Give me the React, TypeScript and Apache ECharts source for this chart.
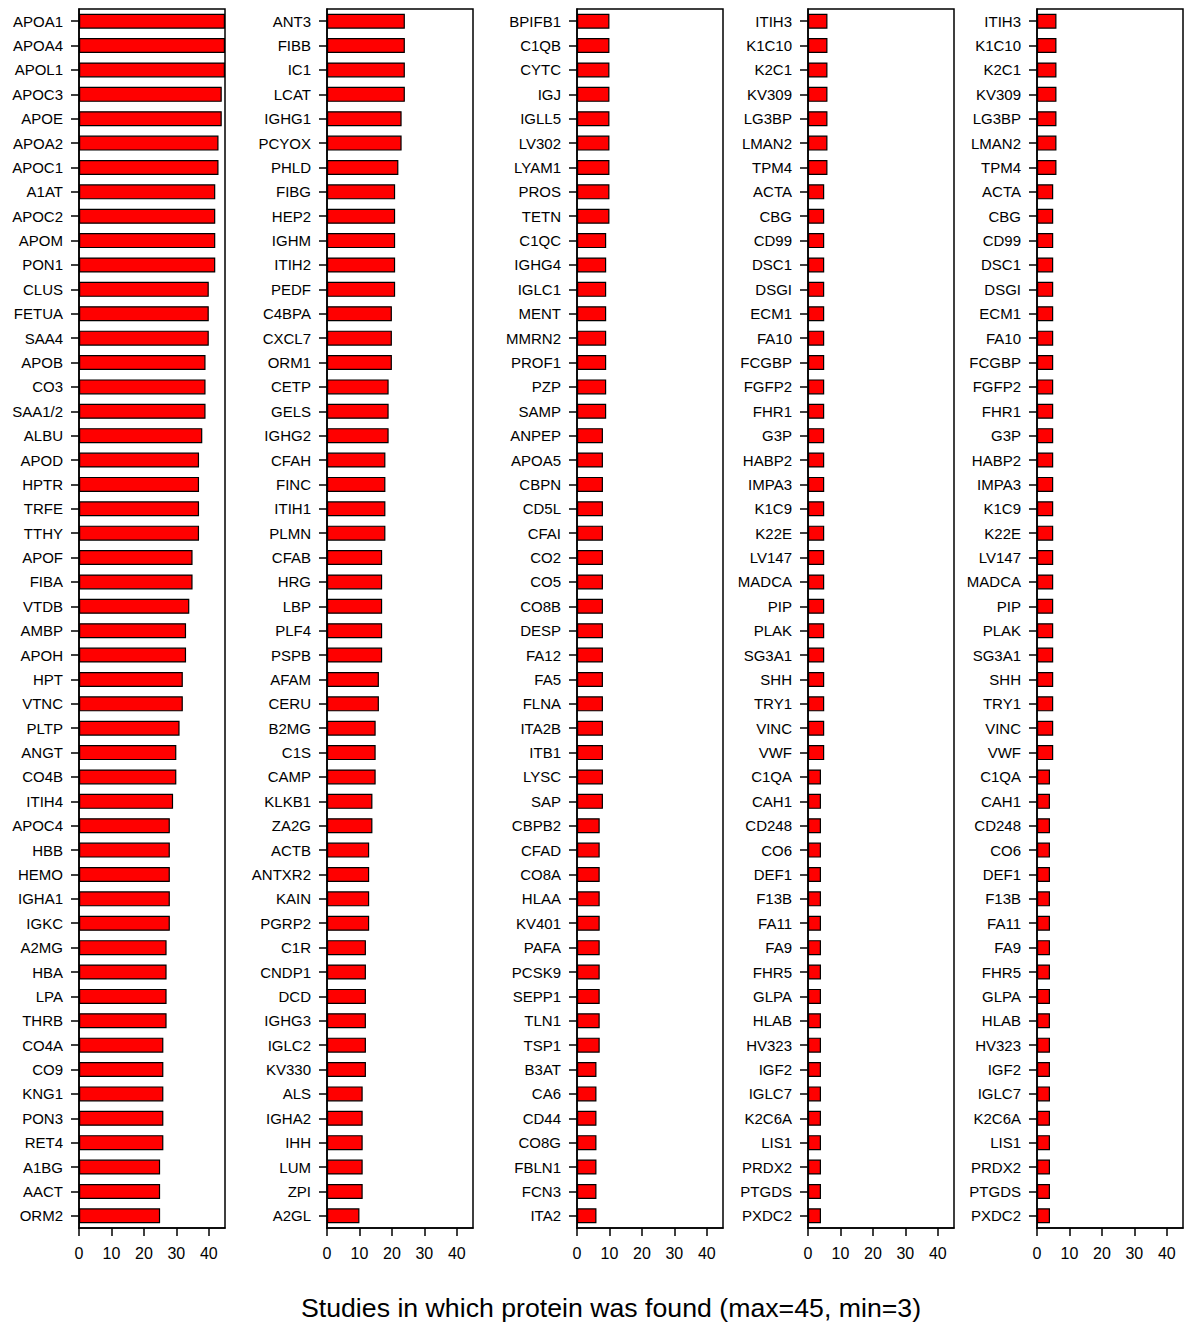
import React, { useEffect, useRef } from "react";
import * as echarts from "echarts";

const names1 = ["APOA1","APOA4","APOL1","APOC3","APOE","APOA2","APOC1","A1AT","APOC2","APOM","PON1","CLUS","FETUA","SAA4","APOB","CO3","SAA1/2","ALBU","APOD","HPTR","TRFE","TTHY","APOF","FIBA","VTDB","AMBP","APOH","HPT","VTNC","PLTP","ANGT","CO4B","ITIH4","APOC4","HBB","HEMO","IGHA1","IGKC","A2MG","HBA","LPA","THRB","CO4A","CO9","KNG1","PON3","RET4","A1BG","AACT","ORM2"];
const values1 = [45,45,45,44,44,43,43,42,42,42,42,40,40,40,39,39,39,38,37,37,37,37,35,35,34,33,33,32,32,31,30,30,29,28,28,28,28,28,27,27,27,27,26,26,26,26,26,25,25,25];

const names2 = ["ANT3","FIBB","IC1","LCAT","IGHG1","PCYOX","PHLD","FIBG","HEP2","IGHM","ITIH2","PEDF","C4BPA","CXCL7","ORM1","CETP","GELS","IGHG2","CFAH","FINC","ITIH1","PLMN","CFAB","HRG","LBP","PLF4","PSPB","AFAM","CERU","B2MG","C1S","CAMP","KLKB1","ZA2G","ACTB","ANTXR2","KAIN","PGRP2","C1R","CNDP1","DCD","IGHG3","IGLC2","KV330","ALS","IGHA2","IHH","LUM","ZPI","A2GL"];
const values2 = [24,24,24,24,23,23,22,21,21,21,21,21,20,20,20,19,19,19,18,18,18,18,17,17,17,17,17,16,16,15,15,15,14,14,13,13,13,13,12,12,12,12,12,12,11,11,11,11,11,10];

const names3 = ["BPIFB1","C1QB","CYTC","IGJ","IGLL5","LV302","LYAM1","PROS","TETN","C1QC","IGHG4","IGLC1","MENT","MMRN2","PROF1","PZP","SAMP","ANPEP","APOA5","CBPN","CD5L","CFAI","CO2","CO5","CO8B","DESP","FA12","FA5","FLNA","ITA2B","ITB1","LYSC","SAP","CBPB2","CFAD","CO8A","HLAA","KV401","PAFA","PCSK9","SEPP1","TLN1","TSP1","B3AT","CA6","CD44","CO8G","FBLN1","FCN3","ITA2"];
const values3 = [10,10,10,10,10,10,10,10,10,9,9,9,9,9,9,9,9,8,8,8,8,8,8,8,8,8,8,8,8,8,8,8,8,7,7,7,7,7,7,7,7,7,7,6,6,6,6,6,6,6];

const names4 = ["ITIH3","K1C10","K2C1","KV309","LG3BP","LMAN2","TPM4","ACTA","CBG","CD99","DSC1","DSGI","ECM1","FA10","FCGBP","FGFP2","FHR1","G3P","HABP2","IMPA3","K1C9","K22E","LV147","MADCA","PIP","PLAK","SG3A1","SHH","TRY1","VINC","VWF","C1QA","CAH1","CD248","CO6","DEF1","F13B","FA11","FA9","FHR5","GLPA","HLAB","HV323","IGF2","IGLC7","K2C6A","LIS1","PRDX2","PTGDS","PXDC2"];
const values4 = [6,6,6,6,6,6,6,5,5,5,5,5,5,5,5,5,5,5,5,5,5,5,5,5,5,5,5,5,5,5,5,4,4,4,4,4,4,4,4,4,4,4,4,4,4,4,4,4,4,4];

const names5 = ["ITIH3","K1C10","K2C1","KV309","LG3BP","LMAN2","TPM4","ACTA","CBG","CD99","DSC1","DSGI","ECM1","FA10","FCGBP","FGFP2","FHR1","G3P","HABP2","IMPA3","K1C9","K22E","LV147","MADCA","PIP","PLAK","SG3A1","SHH","TRY1","VINC","VWF","C1QA","CAH1","CD248","CO6","DEF1","F13B","FA11","FA9","FHR5","GLPA","HLAB","HV323","IGF2","IGLC7","K2C6A","LIS1","PRDX2","PTGDS","PXDC2"];
const values5 = [6,6,6,6,6,6,6,5,5,5,5,5,5,5,5,5,5,5,5,5,5,5,5,5,5,5,5,5,5,5,5,4,4,4,4,4,4,4,4,4,4,4,4,4,4,4,4,4,4,4];

const xTicks = [0, 10, 20, 30, 40];
const xMax = 45;
const axisTitle = "Studies in which protein was found (max=45, min=3)";

const panels = [
  { names: names1, values: values1 },
  { names: names2, values: values2 },
  { names: names3, values: values3 },
  { names: names4, values: values4 },
  { names: names5, values: values5 },
];
const gridLefts = [79, 327, 577, 808, 1037];
const FONT = "'Liberation Sans', Arial, sans-serif";

export default function App() {
  const ref = useRef<HTMLDivElement>(null);
  useEffect(() => {
    const chart = echarts.init(ref.current!, null, { renderer: "svg" });
    chart.setOption({
      animation: false,
      backgroundColor: "#fff",
      grid: panels.map((_, i) => ({
        left: gridLefts[i],
        top: 9,
        width: 146,
        height: 1219,
        show: true,
        borderColor: "#000",
        borderWidth: 1.5,
      })),
      xAxis: panels.map((_, i) => ({
        gridIndex: i,
        type: "value",
        min: 0,
        max: xMax,
        interval: 10,
        splitLine: { show: false },
        axisLine: { show: true, lineStyle: { color: "#000", width: 1.5 } },
        axisTick: { show: true, length: 8, lineStyle: { color: "#000", width: 1.5 }, customValues: xTicks },
        axisLabel: {
          customValues: xTicks,
          fontSize: 16,
          color: "#000",
          margin: 17,
          fontFamily: FONT,
        },
      })),
      yAxis: panels.map((p, i) => ({
        gridIndex: i,
        type: "category",
        inverse: true,
        data: p.names,
        axisLine: { show: true, lineStyle: { color: "#000", width: 1.5 } },
        axisTick: { show: true, alignWithLabel: true, length: 8, lineStyle: { color: "#000", width: 1.5 } },
        axisLabel: { interval: 0, fontSize: 15, color: "#000", margin: 16, fontFamily: FONT },
      })),
      series: panels.map((p, i) => ({
        type: "bar",
        xAxisIndex: i,
        yAxisIndex: i,
        data: p.values,
        barWidth: 15,
        itemStyle: { color: "#ff0000", borderColor: "#000", borderWidth: 1.2 },
      })),
      graphic: [
        {
          type: "text",
          x: 611,
          y: 1308,
          style: {
            text: axisTitle,
            font: `26.7px ${FONT}`,
            textAlign: "center",
            textVerticalAlign: "middle",
            fill: "#000",
          },
        },
      ],
    });
    return () => chart.dispose();
  }, []);
  return (
    <div
      ref={ref}
      style={{ position: "absolute", left: 0, top: 0, width: 1188, height: 1323, background: "#fff" }}
    />
  );
}
